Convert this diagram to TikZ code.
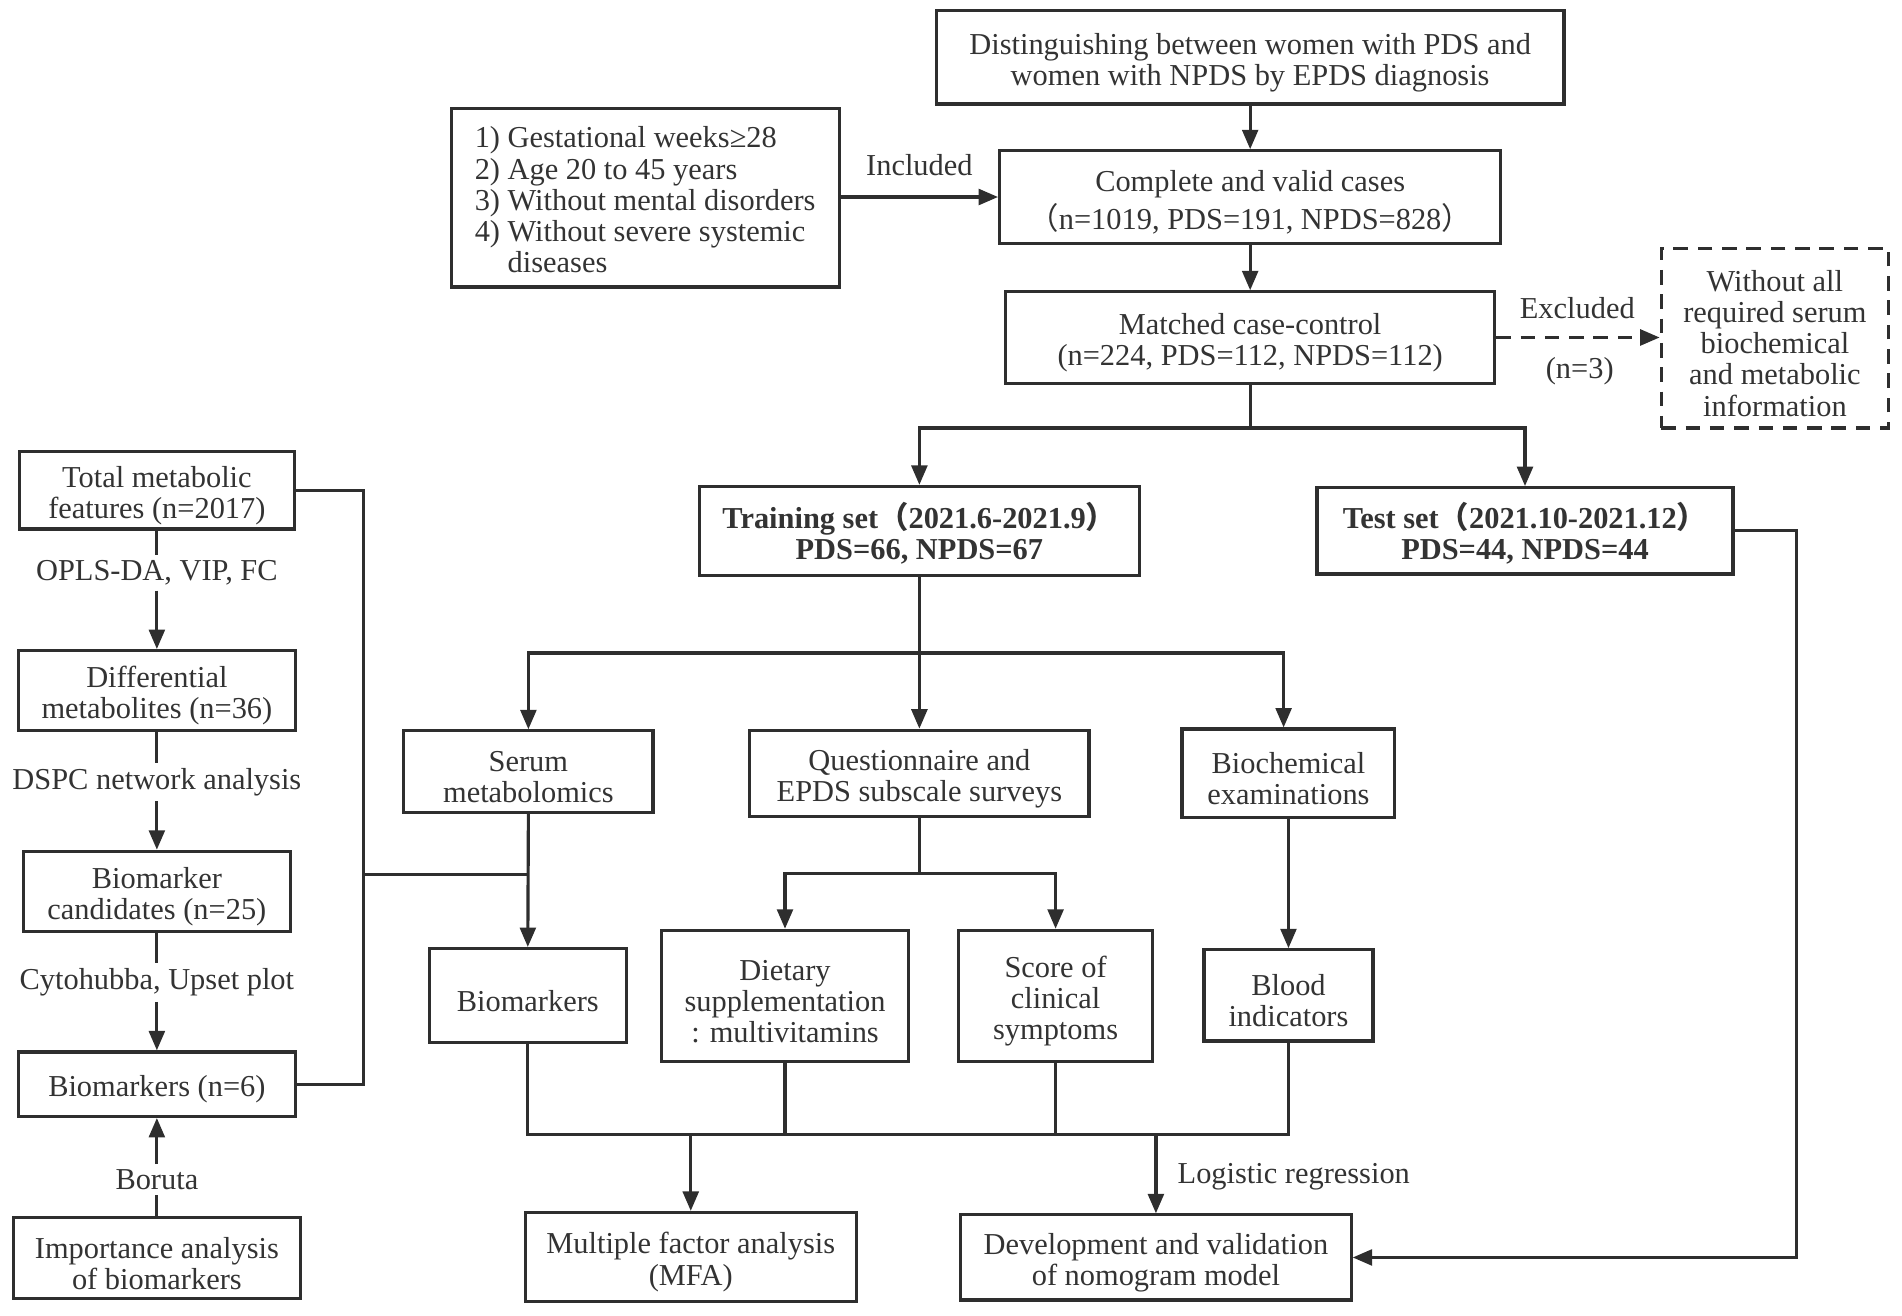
\documentclass[tikz,border=0pt]{standalone}
\usepackage{fontspec}
\setmainfont{Liberation Serif}
\newfontfamily\cjk{Noto Sans CJK SC}
\usetikzlibrary{arrows.meta}
\definecolor{lncol}{HTML}{2E2E2E}
\definecolor{txcol}{HTML}{333333}
\newcommand{\lpar}{{\cjk （}}
\newcommand{\rpar}{{\cjk ）}}
\newcommand{\tstrut}{\rule{0pt}{13pt}}
\begin{document}
\begin{tikzpicture}[x=0.5pt,y=-0.5pt,
  font=\fontsize{12.5}{12.8}\selectfont,
  box/.style={draw=lncol, line width=1.3pt, inner sep=1pt, align=center, text=txcol},
  conn/.style={draw=lncol, line width=1.3pt},
  arr/.style={conn, -{Triangle[length=8pt,width=6.5pt]}},
  lbl/.style={text=txcol, inner sep=2pt}]
\useasboundingbox (0,0) rectangle (1564,1082);

% top flow
\node[box, minimum width=258pt, minimum height=38.5pt] (top) at (1028,47) {\tstrut Distinguishing between women with PDS and\\women with NPDS by EPDS diagnosis};
\node[box, minimum width=159.5pt, minimum height=73.5pt, align=left] (crit) at (530.5,162.5) {\tstrut 1) Gestational weeks≥28\\2) Age 20 to 45 years\\3) Without mental disorders\\4) Without severe systemic\\\phantom{4) }diseases};
\node[box, minimum width=206pt, minimum height=38pt] (comp) at (1028,162) {\tstrut Complete and valid cases\\[1.5pt]\lpar n=1019, PDS=191, NPDS=828\rpar};
\node[box, minimum width=201pt, minimum height=37.5pt] (match) at (1028,277.5) {\tstrut Matched case-control\\(n=224, PDS=112, NPDS=112)};
\node[box, dashed, dash pattern=on 6pt off 4pt, minimum width=93.5pt, minimum height=74pt] (excl) at (1459.5,278) {\tstrut Without all\\required serum\\biochemical\\and metabolic\\information};
\node[box, font=\fontsize{12.5}{12.8}\selectfont\bfseries, minimum width=181pt, minimum height=36.5pt] (train) at (756,436.5) {\tstrut Training set\lpar 2021.6-2021.9\rpar\\PDS=66, NPDS=67};
\node[box, font=\fontsize{12.5}{12.8}\selectfont\bfseries, minimum width=171pt, minimum height=35.5pt] (test) at (1254,436.5) {\tstrut Test set\lpar 2021.10-2021.12\rpar\\PDS=44, NPDS=44};

% left column
\node[box, minimum width=113pt, minimum height=32pt] (total) at (129,403) {\tstrut Total metabolic\\features (n=2017)};
\node[box, minimum width=114pt, minimum height=33pt] (diff) at (129,568) {\tstrut Differential\\metabolites (n=36)};
\node[box, minimum width=110pt, minimum height=33pt] (cand) at (129,733) {\tstrut Biomarker\\candidates (n=25)};
\node[box, minimum width=114pt, minimum height=26.5pt] (bio6) at (129,891.5) {\tstrut Biomarkers (n=6)};
\node[box, minimum width=118pt, minimum height=33.5pt] (imp) at (129,1034.5) {\tstrut Importance analysis\\of biomarkers};

\node[lbl] (l1) at (129,471) {OPLS-DA, VIP, FC};
\node[lbl] (l2) at (129,643) {DSPC network analysis};
\node[lbl] (l3) at (129,808) {Cytohubba, Upset plot};
\node[lbl] (l4) at (129,970) {Boruta};

% middle rows
\node[box, minimum width=102.5pt, minimum height=33.5pt] (serum) at (434.5,634.5) {\tstrut Serum\\metabolomics};
\node[box, minimum width=139.5pt, minimum height=35.5pt] (quest) at (756,636) {\tstrut Questionnaire and\\EPDS subscale surveys};
\node[box, minimum width=87.5pt, minimum height=36.5pt] (bioch) at (1059.5,636) {\tstrut Biochemical\\examinations};

\node[box, minimum width=81pt, minimum height=38.5pt] (biom) at (434,818.5) {\tstrut Biomarkers};
\node[box, minimum width=101.5pt, minimum height=54pt] (diet) at (645.5,819) {\tstrut Dietary\\supplementation\\: multivitamins};
\node[box, minimum width=80pt, minimum height=54pt] (score) at (868,819) {\tstrut Score of\\clinical\\symptoms};
\node[box, minimum width=69.5pt, minimum height=37.5pt] (blood) at (1059.5,818.5) {\tstrut Blood\\indicators};

\node[box, minimum width=136pt, minimum height=36.5pt] (mfa) at (568,1033.5) {\tstrut Multiple factor analysis\\(MFA)};
\node[box, minimum width=160.5pt, minimum height=35pt] (dev) at (950.5,1034) {\tstrut Development and validation\\of nomogram model};

% connectors top
\draw[arr] (top) -- (comp);
\draw[arr] (crit.east |- comp) -- (comp.west) node[lbl, midway, above=6pt] (inc) {Included};
\draw[arr] (comp) -- (match);
\draw[arr, dashed, dash pattern=on 6pt off 4pt] (match.east) -- (excl.west |- match.east);
\node[lbl] (exl) at (1297,253) {Excluded};
\node[lbl] (n3) at (1299,305) {(n=3)};

\coordinate (m1) at (1028,352);
\draw[conn] (match.south) -- (m1);
\draw[arr] (m1) -| (train.north);
\draw[arr] (m1) -| (test.north);

\coordinate (tR) at (1477,1034);
\draw[arr] (test.east) -| (tR) -- (dev.east);

\coordinate (t1) at (756,537);
\draw[conn] (train.south) -- (t1);
\draw[arr] (t1) -| (serum.north);
\draw[arr] (t1) -- (quest.north);
\draw[arr] (t1) -| ([xshift=-2]bioch.north);

\coordinate (q1) at (756,718);
\draw[conn] (quest.south) -- (q1);
\draw[arr] (q1) -| (diet.north);
\draw[arr] (q1) -| (score.north);

\draw[arr] (serum.south) -- (biom.north);
\draw[arr] (bioch.south) -- (blood.north);

% left column connectors
\draw[conn] (total.south) -- (l1.north);
\draw[arr] (l1.south) -- (diff.north);
\draw[conn] (diff.south) -- (l2.north);
\draw[arr] (l2.south) -- (cand.north);
\draw[conn] (cand.south) -- (l3.north);
\draw[arr] (l3.south) -- (bio6.north);
\draw[conn] (imp.north) -- (l4.south);
\draw[arr] (l4.north) -- (bio6.south);

\coordinate (jL) at (299,719);
\coordinate (jS) at (434,719);
\draw[conn] (total.east) -| (jL) |- (bio6.east);
\draw[conn] (jL) -- (jS);

% bottom merge
\coordinate (b1) at (568,933);
\coordinate (b2) at (950.5,933);
\draw[conn] (biom.south) |- (b1) -- (b2) -| (blood.south);
\draw[conn] (diet.south) -- (diet.south |- b1);
\draw[conn] (score.south) -- (score.south |- b1);
\draw[arr] (b1) -- (mfa.north);
\draw[arr] (b2) -- (dev.north);
\node[lbl, anchor=west] (logr) at (964,968) {Logistic regression};
\end{tikzpicture}
\end{document}
